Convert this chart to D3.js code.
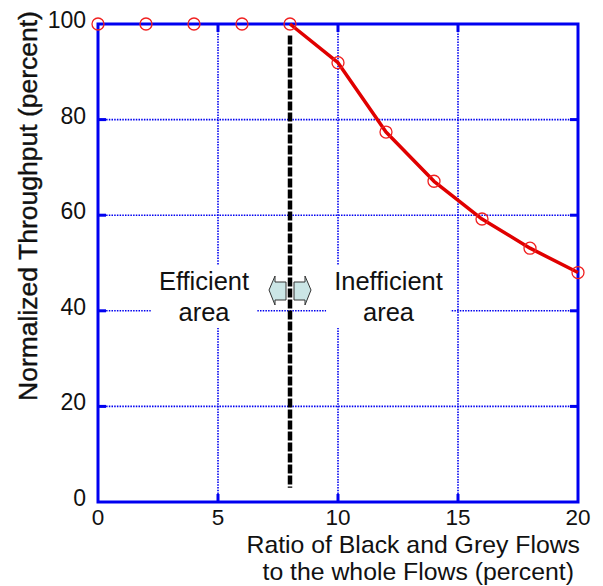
<!DOCTYPE html>
<html>
<head>
<meta charset="utf-8">
<script src="https://cdn.jsdelivr.net/npm/d3@7"></script>
<style>
  html, body { margin: 0; padding: 0; background: #fff; }
  svg { display: block; }
  text { font-family: "Liberation Sans", Arial, sans-serif; fill: #111; }
</style>
</head>
<body>
<div id="chart"></div>
<script>
// ---- data ----
const ratio = [0, 2, 4, 6, 8, 10, 12, 14, 16, 18, 20];
const throughput = [100, 100, 100, 100, 100, 91.9, 77.4, 67.1, 59.2, 53.1, 48.0];
const curveStart = 8;              // red line drawn from this ratio on
const xTicks = [0, 5, 10, 15, 20];
const yTicks = [0, 20, 40, 60, 80, 100];
const dividerX = 8;
const dividerY = [3, 97.6];
const yTitle = "Normalized Throughput (percent)";
const xTitle = ["Ratio of Black and Grey Flows", "to the whole Flows (percent)"];
const leftNote = ["Efficient", "area"];
const rightNote = ["Inefficient", "area"];

// ---- layout ----
const W = 603, H = 586;
const x = d3.scaleLinear().domain([0, 20]).range([98, 578]);
const y = d3.scaleLinear().domain([0, 100]).range([502, 24]);
const blue = "#0000f0";

const svg = d3.select("#chart").append("svg").attr("width", W).attr("height", H);

// grid
const grid = svg.append("g");
grid.selectAll("line.gy").data(yTicks.filter(d => d > 0 && d < 100)).join("line")
  .attr("x1", x(0)).attr("x2", x(20)).attr("y1", d => y(d)).attr("y2", d => y(d))
  .attr("stroke", blue).attr("stroke-width", 1.6).attr("stroke-dasharray", "1.5,1.2");
grid.selectAll("line.gx").data(xTicks.filter(d => d > 0 && d < 20)).join("line")
  .attr("y1", y(0)).attr("y2", y(100)).attr("x1", d => x(d)).attr("x2", d => x(d))
  .attr("stroke", blue).attr("stroke-width", 1.6).attr("stroke-dasharray", "1.5,1.2");

// annotation text with white backgrounds
function note(lines, cx) {
  const g = svg.append("g");
  const rect = g.append("rect").attr("fill", "#fff");
  const t = g.append("text").attr("text-anchor", "middle").attr("font-size", 25.5);
  t.selectAll("tspan").data(lines).join("tspan")
    .attr("x", cx).attr("y", (d, i) => 290 + i * 31).text(d => d);
  const b = t.node().getBBox();
  rect.attr("x", b.x - 8).attr("y", b.y - 2).attr("width", b.width + 16).attr("height", b.height + 4);
}
note(leftNote, 204);
note(rightNote, 388.5);

// arrows
function arrow(dir) {
  const cx = x(dividerX);
  const s = dir;      // -1 left, +1 right
  const pts = [
    [cx + s * 21, 290],
    [cx + s * 15, 276],
    [cx + s * 15, 282],
    [cx + s * 4, 282],
    [cx + s * 4, 300],
    [cx + s * 15, 300],
    [cx + s * 15, 305]
  ];
  svg.append("path").attr("d", d3.line()(pts) + "Z")
    .attr("fill", "#cbe6e6").attr("stroke", "#333").attr("stroke-width", 1);
}
arrow(-1);
arrow(1);

// divider
svg.append("line")
  .attr("x1", x(dividerX)).attr("x2", x(dividerX))
  .attr("y1", y(dividerY[1])).attr("y2", y(dividerY[0]))
  .attr("stroke", "#000").attr("stroke-width", 4.5).attr("stroke-dasharray", "9,2");

// frame
svg.append("rect").attr("x", x(0)).attr("y", y(100))
  .attr("width", x(20) - x(0)).attr("height", y(0) - y(100))
  .attr("fill", "none").attr("stroke", blue).attr("stroke-width", 3);

// inward ticks on four sides
const tl = 8;
const tk = svg.append("g").attr("stroke", blue).attr("stroke-width", 3);
yTicks.filter(d => d > 0 && d < 100).forEach(d => {
  tk.append("line").attr("x1", x(0)).attr("x2", x(0) + tl).attr("y1", y(d)).attr("y2", y(d));
  tk.append("line").attr("x1", x(20)).attr("x2", x(20) - tl).attr("y1", y(d)).attr("y2", y(d));
});
xTicks.filter(d => d > 0 && d < 20).forEach(d => {
  tk.append("line").attr("y1", y(0)).attr("y2", y(0) - tl).attr("x1", x(d)).attr("x2", x(d));
  tk.append("line").attr("y1", y(100)).attr("y2", y(100) + tl).attr("x1", x(d)).attr("x2", x(d));
});

// tick labels
svg.append("g").selectAll("text").data(yTicks).join("text")
  .attr("x", 86).attr("y", d => y(d) + 4).attr("text-anchor", "end")
  .attr("font-size", 23).text(d => d);
svg.append("g").selectAll("text").data(xTicks).join("text")
  .attr("x", d => x(d)).attr("y", 524.5).attr("text-anchor", "middle")
  .attr("font-size", 22.5).text(d => d);

// data line
const pts = ratio.map((r, i) => [r, throughput[i]]);
svg.append("path")
  .attr("d", d3.line().x(d => x(d[0])).y(d => y(d[1])).curve(d3.curveLinear)(pts.filter(p => p[0] >= curveStart)))
  .attr("fill", "none").attr("stroke", "#e00000").attr("stroke-width", 3.5)
  .attr("stroke-linejoin", "round");
svg.append("g").selectAll("circle").data(pts).join("circle")
  .attr("cx", d => x(d[0])).attr("cy", d => y(d[1])).attr("r", 6)
  .attr("fill", "none").attr("stroke", "#f02020").attr("stroke-width", 1.3);

// titles
svg.append("text").attr("transform", "translate(37,206) rotate(-90)")
  .attr("text-anchor", "middle").attr("font-size", 26.5).attr("stroke", "#111").attr("stroke-width", 0.4)
  .text(yTitle);
svg.append("text").attr("x", 580).attr("y", 552.5).attr("text-anchor", "end")
  .attr("font-size", 24.8).text(xTitle[0]);
svg.append("text").attr("x", 574).attr("y", 580.2).attr("text-anchor", "end")
  .attr("font-size", 24.8).text(xTitle[1]);
</script>
</body>
</html>
